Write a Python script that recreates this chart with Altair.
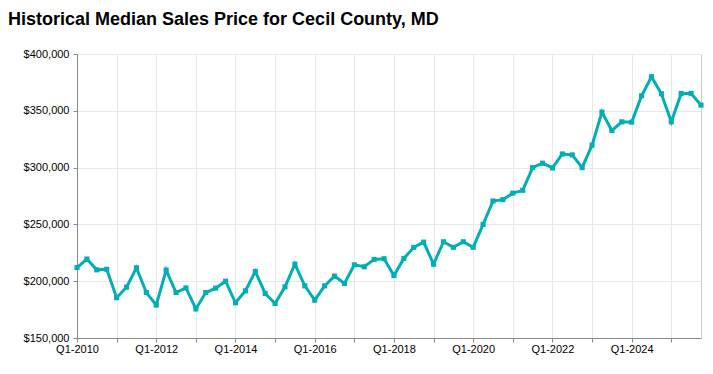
import altair as alt
import pandas as pd

years = list(range(2010, 2026))
quarters = [f"Q{q}-{y}" for y in years for q in (1, 2, 3, 4)]
prices = [
    212000, 219500, 210000, 210500,
    185500, 194700, 211800, 190000,
    179000, 209800, 190000, 194100,
    175600, 190000, 193900, 200000,
    181000, 191500, 208600, 189200,
    180400, 195000, 215000, 195900,
    183300, 195900, 204500, 198000,
    214400, 212700, 219200, 219800,
    205000, 220000, 229800, 234400,
    215000, 234700, 229800, 234700,
    229800, 250000, 270600, 271800,
    277500, 280000, 300000, 303900,
    299700, 312000, 311200, 300000,
    319700, 348800, 332600, 340300,
    340000, 363200, 380000, 365000,
    340300, 365300, 365300, 355000,
]
y_ticks = [150000, 200000, 250000, 300000, 350000, 400000]

df = pd.DataFrame({"quarter": quarters, "price": prices})
q1_labels = [q for q in quarters if q.startswith("Q1")]

color = "#00AEB3"

x = alt.X(
    "quarter:O",
    sort=quarters,
    scale=alt.Scale(type="point", padding=0),
    axis=alt.Axis(
        values=q1_labels,
        labelExpr="parseInt(substring(datum.value, 3)) % 2 == 0 ? datum.value : ''",
        labelAngle=0,
        title=None,
        grid=True,
        gridColor="#e8e8e8",
        domainColor="#8a8a8a",
        tickColor="#8a8a8a",
        tickSize=4,
        labelFont="Liberation Sans",
        labelFontSize=11,
        labelColor="#000000",
        labelPadding=1,
    ),
)
y = alt.Y(
    "price:Q",
    scale=alt.Scale(domain=[150000, 400000], nice=False, zero=False),
    axis=alt.Axis(
        values=y_ticks,
        format="$,.0f",
        title=None,
        grid=True,
        gridColor="#e8e8e8",
        domainColor="#8a8a8a",
        tickColor="#8a8a8a",
        tickSize=4,
        labelFont="Liberation Sans",
        labelFontSize=11,
        labelColor="#000000",
        labelPadding=4,
    ),
)

line = alt.Chart(df).mark_line(color=color, strokeWidth=3).encode(x=x, y=y)
pts = alt.Chart(df).mark_square(color=color, size=26, opacity=1, filled=True).encode(x=x, y=y)

chart = (
    (line + pts)
    .properties(
        width=624,
        height=284,
        autosize=alt.AutoSizeParams(type="none"),
        padding={"left": 69, "top": 46, "right": 4, "bottom": 28},
        title=alt.TitleParams(
            "Historical Median Sales Price for Cecil County, MD",
            anchor="start",
            frame="group",
            dx=-69,
            offset=5,
            baseline="alphabetic",
            font="Liberation Sans",
            fontSize=18,
            fontWeight="bold",
            color="#000000",
        ),
    )
    .configure_view(stroke="#cccccc", strokeWidth=1)
)

chart.save("out.html", embed_options={"renderer": "svg", "actions": False})
